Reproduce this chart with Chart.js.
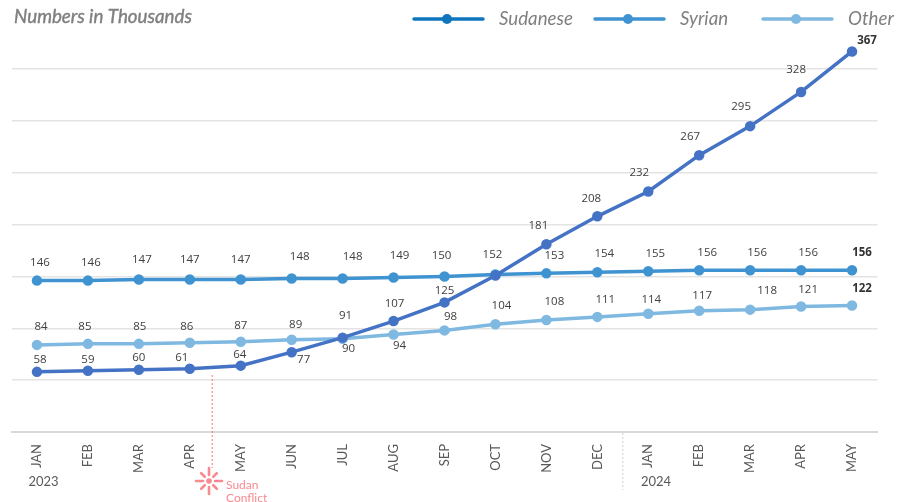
<!DOCTYPE html>
<html>
<head>
<meta charset="utf-8">
<title>Numbers in Thousands</title>
<script src="https://cdn.jsdelivr.net/npm/chart.js@4"></script>
<style>
    html, body { margin: 0; padding: 0; background: #fff; overflow: hidden; }
    canvas { display: block; }
</style>
</head>
<body>
<canvas id="chart" width="908" height="502"></canvas>
<script>
const months = ['JAN','FEB','MAR','APR','MAY','JUN','JUL','AUG','SEP','OCT','NOV','DEC','JAN','FEB','MAR','APR','MAY'];
const sudanese = [58,59,60,61,64,77,91,107,125,151,181,208,232,267,295,328,367];
const syrian = [146,146,147,147,147,148,148,149,150,152,153,154,155,156,156,156,156];
const other = [84,85,85,86,87,89,90,94,98,104,108,111,114,117,118,121,122];

// label nudges in px, relative to the point. the source chart placed these by hand
const sudaneseNudge = [[3,-12],[0,-11],[0,-12],[-8,-11],[-1,-11],[12,8],[3,-22],[1,-17],[0,-12],null,[-8,-19],[-6,-18],[-9,-19],[-9,-18],[-9,-19],[-5,-22],[15,-11]];
const syrianNudge = [[3,-18],[3,-18],[3,-20],[0,-20],[0,-20],[8,-22],[10,-22],[6,-22],[-3,-21],[-3,-20],[8,-18],[7,-19],[7,-18],[8,-18],[7,-18],[7,-18],[10,-18]];
const otherNudge = [[4,-18],[-3,-17],[1,-17],[-3,-16],[0,-16],[4,-15],[6,10],[6,11],[6,-14],[6,-18],[8,-18],[8,-17],[3,-14],[3,-15],[17,-19],[7,-17],[10,-17]];

const legendItems = [
    { label: 'Sudanese', color: '#0F75BC', x: 413 },
    { label: 'Syrian', color: '#3F93D0', x: 594 },
    { label: 'Other', color: '#7FB8E0', x: 762 }
];

const labelPlugin = {
    id: 'labelPlugin',
    afterDatasetsDraw(chart) {
        const { ctx } = chart;
        const nudges = [sudaneseNudge, syrianNudge, otherNudge];
        ctx.save();
        ctx.textAlign = 'center';
        ctx.textBaseline = 'middle';
        chart.data.datasets.forEach((ds, d) => {
            chart.getDatasetMeta(d).data.forEach((pt, i) => {
                const n = nudges[d][i];
                if (!n) return;
                // last month is bold
                ctx.font = (i === ds.data.length - 1 ? 'bold ' : '') + '11.5px "Open Sans"';
                ctx.fillStyle = i === ds.data.length - 1 ? '#333333' : '#404040';
                ctx.fillText(ds.data[i], pt.x + n[0], pt.y + n[1]);
            });
        });
        ctx.restore();
    }
};

const extrasPlugin = {
    id: 'extrasPlugin',
    afterDraw(chart) {
        const { ctx } = chart;
        const xs = chart.scales.x;
        ctx.save();

        // title, a bit heavier than regular italic
        ctx.font = 'italic 18.8px Lato';
        ctx.fillStyle = '#7F7F7F';
        ctx.strokeStyle = '#7F7F7F';
        ctx.lineWidth = 0.4;
        ctx.textBaseline = 'middle';
        ctx.fillText('Numbers in Thousands', 14, 17);
        ctx.strokeText('Numbers in Thousands', 14, 17);

        // legend
        legendItems.forEach(item => {
            ctx.strokeStyle = item.color;
            ctx.fillStyle = item.color;
            ctx.lineWidth = 3.5;
            ctx.lineCap = 'round';
            ctx.beginPath();
            ctx.moveTo(item.x + 1, 19);
            ctx.lineTo(item.x + 70, 19);
            ctx.stroke();
            ctx.beginPath();
            ctx.arc(item.x + 34, 19, 5, 0, Math.PI * 2);
            ctx.fill();
            ctx.font = 'italic 18.7px Lato';
            ctx.fillStyle = '#7F7F7F';
            ctx.fillText(item.label, item.x + 86, 19);
        });

        // years
        ctx.font = '13px Lato';
        ctx.fillStyle = '#595959';
        ctx.textAlign = 'center';
        ctx.fillText('2023', 43.5, 482);
        ctx.fillText('2024', 656, 482);

        // dotted divider between the years
        const divX = xs.getPixelForValue(11.5);
        ctx.strokeStyle = '#D0D0D0';
        ctx.lineWidth = 1;
        ctx.lineCap = 'butt';
        ctx.setLineDash([2, 2]);
        ctx.beginPath();
        ctx.moveTo(divX, 433);
        ctx.lineTo(divX, 490);
        ctx.stroke();

        // Sudan conflict marker
        const conflictX = xs.getPixelForValue(3.43) + 0.5;
        ctx.strokeStyle = '#F4747B';
        ctx.beginPath();
        ctx.moveTo(conflictX, 375);
        ctx.lineTo(conflictX, 468);
        ctx.stroke();
        ctx.setLineDash([]);

        const cx = 209, cy = 481;
        ctx.strokeStyle = '#F98A8F';
        ctx.lineWidth = 2.6;
        ctx.lineCap = 'round';
        for (let a = 0; a < 8; a++) {
            const t = a * Math.PI / 4;
            const outer = a % 2 ? 11 : 13;
            ctx.beginPath();
            ctx.moveTo(cx + Math.cos(t) * 6, cy + Math.sin(t) * 6);
            ctx.lineTo(cx + Math.cos(t) * outer, cy + Math.sin(t) * outer);
            ctx.stroke();
        }
        ctx.fillStyle = '#F98A8F';
        ctx.beginPath();
        ctx.arc(cx, cy, 2.8, 0, Math.PI * 2);
        ctx.fill();

        ctx.font = '12px Lato';
        ctx.textAlign = 'left';
        ctx.fillText('Sudan', 226, 485);
        ctx.fillText('Conflict', 226, 498);
        ctx.restore();
    }
};

function line(label, data, color) {
    return {
        label,
        data,
        borderColor: color,
        backgroundColor: color,
        borderWidth: 3.5,
        pointRadius: 3.5,
        pointHoverRadius: 3.5,
        tension: 0
    };
}

new Chart(document.getElementById('chart').getContext('2d'), {
    type: 'line',
    data: {
        labels: months,
        datasets: [
            line('Sudanese', sudanese, '#4472C4'),
            line('Syrian', syrian, '#3F93D0'),
            line('Other', other, '#7FB8E0')
        ]
    },
    options: {
        responsive: false,
        animation: false,
        layout: { padding: { left: 11.5, right: 30.5, top: 38, bottom: 0 } },
        plugins: {
            legend: { display: false },
            tooltip: { enabled: false }
        },
        scales: {
            x: {
                offset: true,
                afterFit: s => { s.height = 70; },
                grid: { display: false },
                border: { color: '#D9D9D9', width: 2 },
                ticks: {
                    autoSkip: false,
                    minRotation: 90,
                    maxRotation: 90,
                    padding: 4,
                    color: '#595959',
                    font: { family: 'Lato', size: 13 }
                }
            },
            y: {
                min: 0,
                max: 380,
                afterFit: s => { s.width = 0; },
                ticks: { stepSize: 50, display: false },
                // the top of the scale is only headroom, no line there
                grid: {
                    color: c => c.tick.value > 350 ? 'rgba(0,0,0,0)' : '#E4E4E4',
                    lineWidth: 1.5,
                    drawTicks: false
                },
                border: { display: false }
            }
        }
    },
    plugins: [labelPlugin, extrasPlugin]
});
</script>
</body>
</html>
